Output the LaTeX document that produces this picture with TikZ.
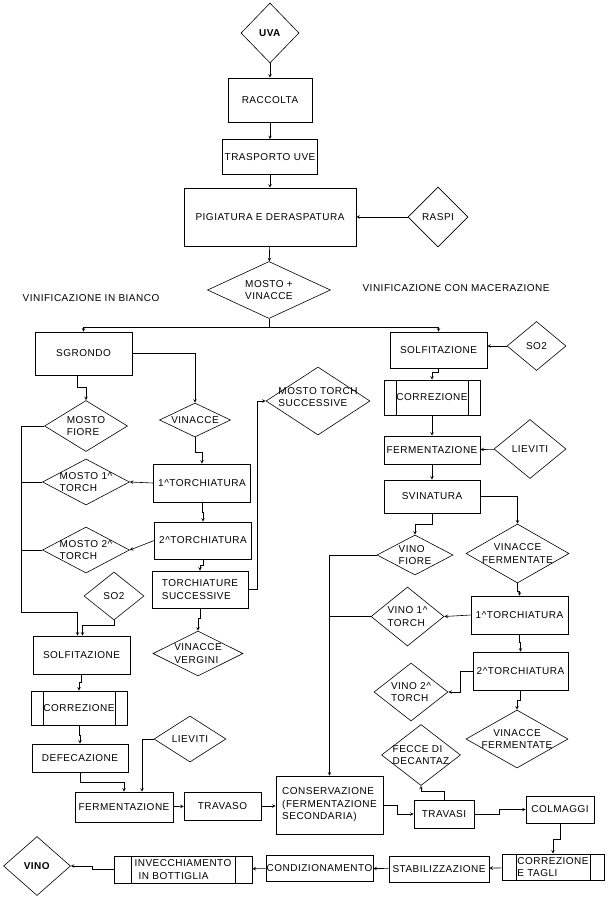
\documentclass[tikz,border=0pt]{standalone}
\usepackage{fontspec}
\setmainfont{Liberation Sans}[LetterSpace=5]
\usetikzlibrary{shapes.geometric}

\begin{document}
\begin{tikzpicture}[x=1pt,y=-1pt,>=stealth,line width=0.6pt,font=\fontsize{10}{12.5}\selectfont]
\tikzstyle{box}=[draw,rectangle,inner sep=1pt,align=center]
\tikzstyle{dia}=[draw,diamond,inner sep=0pt]
\tikzstyle{lbl}=[align=left,inner sep=0pt]
\tikzset{proc/.style={box,path picture={
  \draw ([xshift=#1]path picture bounding box.south west) -- ([xshift=#1]path picture bounding box.north west);
  \draw ([xshift=-#1]path picture bounding box.south east) -- ([xshift=-#1]path picture bounding box.north east);}},
  proc/.default=12pt}
\useasboundingbox (0,0) rectangle (608,901);

% tronco comune
\node[dia,minimum width=58,minimum height=60,label={[lbl]center:\textbf{UVA}}] (uva) at (270,33) {};
\node[box,minimum width=84,minimum height=44] (raccolta) at (270,100) {RACCOLTA};
\node[box,minimum width=95,minimum height=35] (trasporto) at (270,157) {TRASPORTO UVE};
\node[box,minimum width=172,minimum height=58] (pigiatura) at (270,217) {PIGIATURA E DERASPATURA};
\node[dia,minimum width=60,minimum height=60,label={[lbl]center:RASPI}] (raspi) at (438,217) {};
\node[dia,minimum width=123,minimum height=57,label={[lbl]center:MOSTO +\\VINACCE}] (mosto) at (269,290) {};
\node (bianco) at (91,298) {VINIFICAZIONE IN BIANCO};
\node (macer) at (456,288) {VINIFICAZIONE CON MACERAZIONE};

% in bianco
\node[box,minimum width=97,minimum height=43] (sgrondo) at (83.5,353.5) {SGRONDO};
\node[dia,minimum width=83,minimum height=51,label={[lbl]center:MOSTO\\FIORE}] (mfiore) at (86,426) {};
\node[dia,minimum width=71,minimum height=34,label={[lbl]center:VINACCE}] (vinacce) at (195,420) {};
\node[box,minimum width=97,minimum height=38] (torchA) at (202,483) {1\textasciicircum TORCHIATURA};
\node[dia,minimum width=87,minimum height=46,label={[lbl]center:MOSTO 1\textasciicircum\\TORCH}] (mosto1) at (86,482) {};
\node[box,minimum width=97,minimum height=37] (torchB) at (203,540.5) {2\textasciicircum TORCHIATURA};
\node[dia,minimum width=87,minimum height=46,label={[lbl]center:MOSTO 2\textasciicircum\\TORCH}] (mosto2) at (86,550) {};
\node[box,align=left,minimum width=96,minimum height=37] (tsucc) at (200,589.5) {TORCHIATURE\\SUCCESSIVE};
\node[dia,minimum width=104,minimum height=68,label={[lbl,yshift=4pt]center:MOSTO TORCH\\SUCCESSIVE}] (mtsucc) at (318,401) {};
\node[dia,minimum width=60,minimum height=48,label={[lbl]center:SO2}] (so2L) at (114,596) {};
\node[dia,minimum width=90,minimum height=45,label={[lbl]center:VINACCE\\VERGINI}] (vverg) at (198,653.5) {};
\node[box,minimum width=97,minimum height=38] (solfL) at (81.5,655) {SOLFITAZIONE};
\node[proc,minimum width=96,minimum height=34] (corrL) at (79,708) {CORREZIONE};
\node[box,minimum width=96,minimum height=28] (defec) at (80,758) {DEFECAZIONE};
\node[dia,minimum width=72,minimum height=46,label={[lbl]center:LIEVITI}] (lievL) at (190,739) {};
\node[box,minimum width=98,minimum height=30] (fermL) at (124,807) {FERMENTAZIONE};
\node[box,minimum width=77,minimum height=28] (travaso) at (222.5,806) {TRAVASO};

% con macerazione
\node[box,minimum width=97,minimum height=36] (solfR) at (438.5,350) {SOLFITAZIONE};
\node[dia,minimum width=59,minimum height=49,label={[lbl]center:SO2}] (so2R) at (536.5,346) {};
\node[proc,minimum width=96,minimum height=35] (corrR) at (432,397.5) {CORREZIONE};
\node[box,minimum width=96,minimum height=28] (fermR) at (432,450) {FERMENTAZIONE};
\node[dia,minimum width=72,minimum height=59,label={[lbl]center:LIEVITI}] (lievR) at (530,449) {};
\node[box,minimum width=96,minimum height=33] (svin) at (432,496.5) {SVINATURA};
\node[dia,minimum width=76,minimum height=40,label={[lbl]center:VINO\\FIORE}] (vfiore) at (415,555) {};
\node[dia,minimum width=103,minimum height=59,label={[align=center,inner sep=0pt]center:VINACCE\\FERMENTATE}] (vfermA) at (517.5,553.5) {};
\node[box,minimum width=97,minimum height=38] (torchR1) at (519.5,615) {1\textasciicircum TORCHIATURA};
\node[dia,minimum width=73,minimum height=59,label={[lbl]center:VINO 1\textasciicircum\\TORCH}] (vino1) at (407.5,616.5) {};
\node[box,minimum width=95,minimum height=38] (torchR2) at (520.5,671) {2\textasciicircum TORCHIATURA};
\node[dia,minimum width=74,minimum height=58,label={[lbl]center:VINO 2\textasciicircum\\TORCH}] (vino2) at (411,692) {};
\node[dia,minimum width=102,minimum height=58,label={[align=center,inner sep=0pt]center:VINACCE\\FERMENTATE}] (vfermB) at (517,739) {};
\node[dia,minimum width=79,minimum height=61,label={[lbl]center:FECCE DI\\DECANTAZ}] (fecce) at (421,755) {};

% finale
\node[box,align=left,minimum width=107,minimum height=58] (cons) at (329.5,805) {CONSERVAZIONE\\(FERMENTAZIONE\\SECONDARIA)};
\node[box,minimum width=60,minimum height=28] (travasi) at (444,814) {TRAVASI};
\node[box,minimum width=68,minimum height=27] (colm) at (560,809.5) {COLMAGGI};
\node[proc=14pt,align=left,minimum width=102,minimum height=26,inner sep=0pt] (corrt) at (553,867) {CORREZIONE\\E TAGLI};
\node[box,minimum width=100,minimum height=26] (stab) at (439,869) {STABILIZZAZIONE};
\node[box,minimum width=107,minimum height=26,inner sep=0pt] (condiz) at (319.5,868) {CONDIZIONAMENTO};
\node[proc=17pt,align=left,minimum width=138,minimum height=27,inner sep=0pt] (invecch) at (183,869.5) {INVECCHIAMENTO\\\hspace*{4pt}IN BOTTIGLIA};
\node[dia,minimum width=67,minimum height=59,label={[lbl]center:\textbf{VINO}}] (vino) at (37,866) {};

% collegamenti tronco comune
\draw[->] (uva) -- (raccolta);
\draw[->] (raccolta) -- (trasporto);
\draw[->] (trasporto) -- (pigiatura);
\draw[->] (raspi) -- (pigiatura);
\draw[->] (pigiatura) -- (mosto);
\draw[->] (mosto.south) -- ++(0,8) -| (sgrondo.north);
\draw[->] (mosto.south) -- ++(0,8) -| (solfR.north);

% collegamenti in bianco
\coordinate (bus) at (21,612);
\draw[->] ([xshift=-6pt]sgrondo.south) -- ++(0,12) -| (mfiore.north);
\draw[->] (sgrondo.east) -| (vinacce.north);
\draw[->] (vinacce.south) -- ++(0,15) -| (torchA.north);
\draw[->] (torchA.west) -- (mosto1.east);
\draw[->] (torchA.south) -- ++(0,10) -| (torchB.north);
\draw[->] (torchB.west) -- (mosto2.east);
\draw[->] (torchB.south) -- ++(0,6) -| (tsucc.north);
\draw[->] (tsucc.east) -- ++(9,0) |- (mtsucc.west);
\draw[->] (tsucc.south) -- ++(0,10) -| (vverg.north);
\draw[->] (mfiore.west) -| (bus) -| ([xshift=-4pt]solfL.north);
\draw (mosto1.west) -- (mosto1.west -| bus);
\draw (mosto2.west) -- (mosto2.west -| bus);
\draw[->] (so2L.south) -- ++(0,5) -| ([xshift=1pt]solfL.north);
\draw[->] (solfL.south) -- ++(0,8) -| (corrL.north);
\draw[->] (corrL.south) -- ++(0,10) -| (defec.north);
\draw[->] (defec.south) -- ++(0,10) -| (fermL.north);
\draw[->] (lievL.west) -| ([xshift=18pt]fermL.north);
\draw[->] (fermL) -- (travaso);
\draw[->] (travaso) -- (travaso -| cons.west);

% collegamenti con macerazione
\draw[->] (so2R.west) -- (so2R.west -| solfR.east);
\draw[->] (solfR.south) -- ++(0,4) -| (corrR.north);
\draw[->] (corrR) -- (fermR);
\draw[->] (lievR) -- (fermR);
\draw[->] (fermR) -- (svin);
\draw[->] (svin.east) -| (vfermA.north);
\draw[->] (svin.south) -- ++(0,11) -| (vfiore.north);
\draw[->] (vfiore.west) -| (cons.north);
\draw[->] (vfermA.south) -- ++(0,8) -| (torchR1.north);
\draw[->] (torchR1.west) -- (vino1.east);
\draw (vino1.west) -- (vino1.west -| cons.north);
\draw[->] (torchR1.south) -- ++(0,8) -| (torchR2.north);
\draw[->] (torchR2.west) -- ++(-12,0) |- (vino2.east);
\draw[->] (torchR2.south) -- ++(0,10) -| (vfermB.north);

% collegamenti finale
\draw[->] (cons.east) -- ++(14,0) |- (travasi.west);
\draw[->] (travasi.north) -- ++(0,-8) -| (fecce.south);
\draw[->] (travasi.east) -- ++(25,0) |- (colm.west);
\draw[->] (colm.south) -- ++(0,16) -| (corrt.north);
\draw[->] (corrt) -- (stab);
\draw[->] (stab) -- (condiz);
\draw[->] (condiz) -- (invecch);
\draw[->] (invecch.west) -- ++(-21,0) |- (vino.east);
\end{tikzpicture}
\end{document}
